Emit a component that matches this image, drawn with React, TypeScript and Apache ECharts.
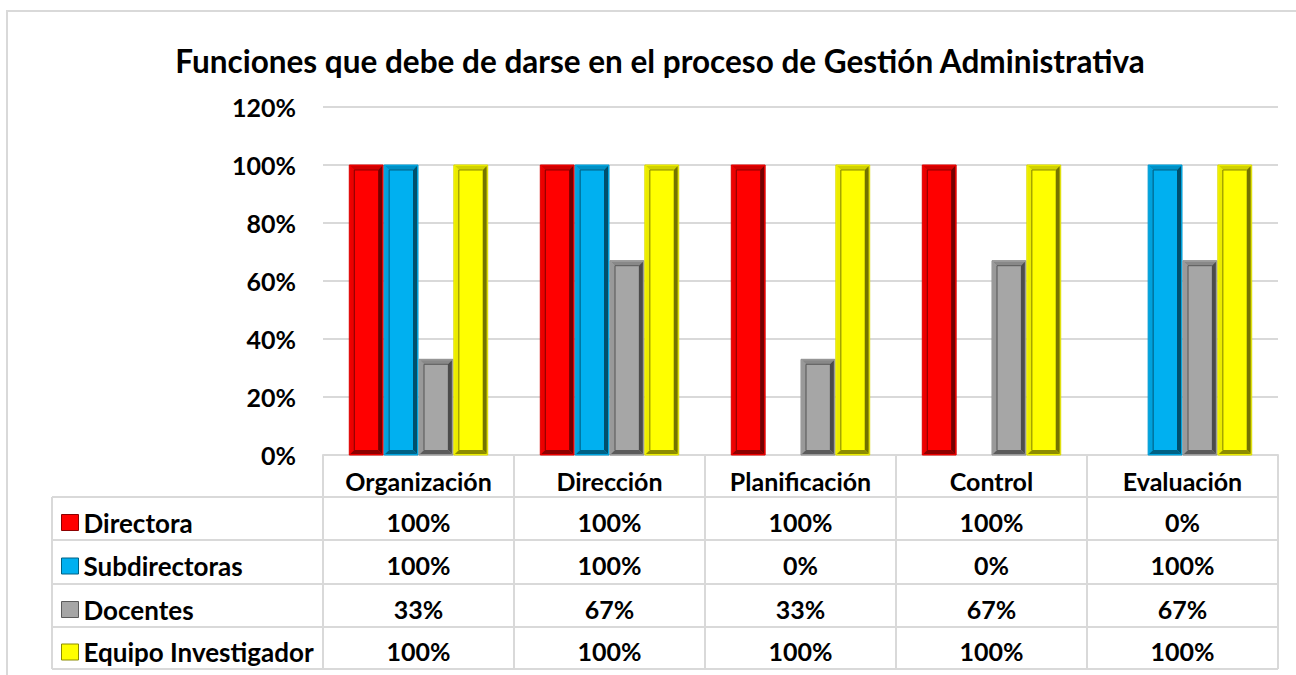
import React, { useEffect, useRef } from "react";
import * as echarts from "echarts";

const title = "Funciones que debe de darse en el proceso de Gestión Administrativa";
const categories = ["Organización", "Dirección", "Planificación", "Control", "Evaluación"];
const seriesNames = ["Directora", "Subdirectoras", "Docentes", "Equipo Investigador"];
const directora = [1, 1, 1, 1, 0];
const subdirectoras = [1, 1, 0, 0, 1];
const docentes = [0.33, 0.67, 0.33, 0.67, 0.67];
const equipo = [1, 1, 1, 1, 1];
const seriesValues = [directora, subdirectoras, docentes, equipo];
const seriesColors = ["#FF0000", "#00B0F0", "#A6A6A6", "#FFFF00"];
const yTicks = { min: 0, max: 1.2, interval: 0.2 };

const FONT = "Lato, 'Open Sans', sans-serif";
const FS = 25;

function shade(hex: string, f: number): string {
  const n = parseInt(hex.slice(1), 16);
  const r = Math.round(((n >> 16) & 255) * f);
  const g = Math.round(((n >> 8) & 255) * f);
  const b = Math.round((n & 255) * f);
  const c = (x: number) => Math.max(0, Math.min(255, x)).toString(16).padStart(2, "0");
  return "#" + c(r) + c(g) + c(b);
}

const pct = (v: number) => Math.round(v * 100) + "%";

export default function App() {
  const ref = useRef<HTMLDivElement>(null);
  useEffect(() => {
    if (!ref.current) return;
    const chart = echarts.init(ref.current, null, { renderer: "svg" });

    const gridLeft = 323;
    const gridRightX = 1278;
    const gridTop = 107;
    const axisY = 455;
    const colW = (gridRightX - gridLeft) / categories.length;
    const rowLines = [497, 540, 584, 627, 669];
    const tableLeft = 52;
    const lineColor = "#D9D9D9";

    const nS = seriesNames.length;
    const makeRender = (s: number) => (params: any, api: any) => {
      const v = api.value(1);
      if (!v) return null;
      const idx = api.value(0);
      const base = api.coord([idx, 0]);
      const top = api.coord([idx, v]);
      const band = api.size([1, 0])[0];
      const groupW = band * 0.73;
      const barW = groupW / nS;
      const x0 = base[0] - groupW / 2 + s * barW + 0.5;
      const x1 = x0 + barW - 1;
      const y0 = top[1];
      const y1 = base[1];
      const b = 5;
      const col = seriesColors[s];
      return {
        type: "group",
        children: [
          { type: "rect", shape: { x: x0, y: y0, width: x1 - x0, height: y1 - y0 }, style: { fill: col, stroke: shade(col, 0.85), lineWidth: 1 } },
          { type: "polygon", shape: { points: [[x0 + 1, y0 + 1], [x1 - 1, y0 + 1], [x1 - b, y0 + b], [x0 + b, y0 + b]] }, style: { fill: shade(col, 0.82) } },
          { type: "polygon", shape: { points: [[x0 + 1, y0 + 1], [x0 + b, y0 + b], [x0 + b, y1 - b], [x0 + 1, y1 - 1]] }, style: { fill: shade(col, 0.92) } },
          { type: "polygon", shape: { points: [[x1 - 1, y0 + 1], [x1 - 1, y1 - 1], [x1 - b, y1 - b], [x1 - b, y0 + b]] }, style: { fill: shade(col, 0.45) } },
          { type: "polygon", shape: { points: [[x0 + 1, y1 - 1], [x1 - 1, y1 - 1], [x1 - b, y1 - b], [x0 + b, y1 - b]] }, style: { fill: shade(col, 0.55) } },
          { type: "line", shape: { x1: x0 + b, y1: y0 + b, x2: x0 + b, y2: y1 - b }, style: { stroke: shade(col, 0.5), lineWidth: 1 } },
          { type: "line", shape: { x1: x0 + b, y1: y0 + b, x2: x1 - b, y2: y0 + b }, style: { stroke: shade(col, 0.55), lineWidth: 1 } },
        ],
      };
    };

    const graphics: any[] = [];
    graphics.push({
      type: "rect",
      shape: { x: 7, y: 11, width: 1320, height: 720 },
      style: { fill: "none", stroke: lineColor, lineWidth: 2 },
      silent: true,
    });
    rowLines.forEach((y) => {
      graphics.push({ type: "line", shape: { x1: tableLeft, y1: y, x2: gridRightX, y2: y }, style: { stroke: lineColor, lineWidth: 2 } });
    });
    graphics.push({ type: "line", shape: { x1: tableLeft, y1: rowLines[0], x2: tableLeft, y2: rowLines[rowLines.length - 1] }, style: { stroke: lineColor, lineWidth: 2 } });
    for (let c = 0; c <= categories.length; c++) {
      const x = gridLeft + c * colW;
      graphics.push({ type: "line", shape: { x1: x, y1: axisY, x2: x, y2: rowLines[rowLines.length - 1] }, style: { stroke: lineColor, lineWidth: 2 } });
    }
    seriesValues.forEach((vals, r) => {
      const cy = (rowLines[r] + rowLines[r + 1]) / 2 + 3;
      vals.forEach((v, c) => {
        graphics.push({
          type: "text",
          x: gridLeft + (c + 0.5) * colW,
          y: cy,
          style: { text: pct(v), fill: "#000", font: `bold ${FS}px ${FONT}`, textAlign: "center", textVerticalAlign: "middle" },
        });
      });
    });

    const legends = seriesNames.map((n, r) => ({
      data: [n],
      orient: "vertical",
      left: 56,
      top: (rowLines[r] + rowLines[r + 1]) / 2 - 14,
      itemWidth: 17,
      itemHeight: 16,
      icon: "rect",
      selectedMode: false,
      itemStyle: { borderColor: shade(seriesColors[r], 0.55), borderWidth: 1 },
      textStyle: { color: "#000", fontWeight: "bold", fontSize: 26, fontFamily: FONT },
    }));

    chart.setOption({
      animation: false,
      color: seriesColors,
      title: {
        text: title,
        left: 655,
        top: 40,
        textAlign: "center",
        textStyle: { color: "#000", fontWeight: "bold", fontSize: 31.5, fontFamily: FONT },
      },
      legend: legends,
      grid: { left: gridLeft, right: 1296 - gridRightX, top: gridTop, bottom: 675 - axisY, containLabel: false },
      xAxis: {
        type: "category",
        data: categories,
        axisLine: { show: true, lineStyle: { color: lineColor, width: 2 } },
        axisTick: { show: false },
        axisLabel: { color: "#000", fontWeight: "bold", fontSize: FS, fontFamily: FONT, margin: 26, verticalAlign: "middle" },
      },
      yAxis: {
        type: "value",
        min: yTicks.min,
        max: yTicks.max,
        interval: yTicks.interval,
        axisLine: { show: false },
        axisTick: { show: false },
        splitLine: { lineStyle: { color: lineColor, width: 2 } },
        axisLabel: { color: "#000", fontWeight: "bold", fontSize: FS, fontFamily: FONT, margin: 27, formatter: (v: number) => pct(v) },
      },
      graphic: graphics,
      series: seriesNames.map((n, s) => ({
        type: "custom",
        name: n,
        itemStyle: { color: seriesColors[s] },
        renderItem: makeRender(s),
        encode: { x: 0, y: 1 },
        data: seriesValues[s].map((v, i) => [i, v]),
      })),
    });
    return () => chart.dispose();
  }, []);
  return <div ref={ref} style={{ position: "fixed", left: 0, top: 0, width: 1296, height: 675, background: "#fff" }} />;
}
